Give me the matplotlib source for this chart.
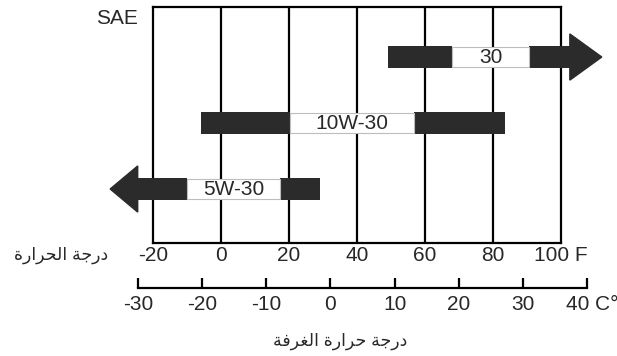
import matplotlib.pyplot as plt
from matplotlib.patches import Polygon

plt.rcParams["font.family"] = ["Liberation Sans", "DejaVu Sans"]

OUTPUT = "out.png"
FIGURE_SIZE = (6.17, 3.56)

# SAE grades, one row each (top to bottom), temperatures in F
GRADES = ["30", "10W-30", "5W-30"]
BAR_START_F = [49, -6, -24.5]
LABEL_START_F = [68, 20.3, -10]
LABEL_END_F = [90.6, 56.8, 17.4]
BAR_END_F = [102.6, 83.5, 29]
ARROW_TIP_F = [112, None, -32.6]  # open-ended ranges

F_TICKS = [-20, 0, 20, 40, 60, 80, 100]
F_LABELS = ["-20", "0", "20", "40", "60", "80", "100 F"]
C_TICKS = [-30, -20, -10, 0, 10, 20, 30, 40]
C_LABELS = ["-30", "-20", "-10", "0", "10", "20", "30", ""]

# Arabic written in presentation forms, visual order (matplotlib does no shaping)
LABEL_TEMP = "\uFE93\uFEAD\uFE8D\uFEAE\uFEA4\uFEDF\uFE8D \uFE94\uFE9F\uFEAD\uFEA9"  # درجة الحرارة
LABEL_ROOM = ("\uFE94\uFED3\uFEAE\uFED0\uFEDF\uFE8D \uFE93\uFEAD\uFE8D\uFEAE\uFEA3 "
              "\uFE94\uFE9F\uFEAD\uFEA9")  # درجة حرارة الغرفة

DARK = "#2b2b2b"
TEXT = "#282828"
FS = 15


def run():
    fig = plt.figure(figsize=FIGURE_SIZE, dpi=100)
    ax = fig.add_axes([153 / 617, 113 / 356, 408 / 617, 236 / 356])
    __plot_grades(ax)
    __plot_celsius(fig)

    fig.text(138 / 617, 1 - 18 / 356, "SAE", ha="right", va="center",
             fontsize=FS, color=TEXT)
    fig.text(108 / 617, 1 - 255 / 356, LABEL_TEMP, ha="right", va="center",
             fontsize=12.5, color=TEXT)
    fig.text(340 / 617, 1 - 341 / 356, LABEL_ROOM, ha="center", va="center",
             fontsize=12.5, color=TEXT)

    fig.savefig(OUTPUT, dpi=100)


def __plot_grades(ax):
    ax.set_xlim(-20, 100)
    ax.set_ylim(2.818, -0.758)
    h = 0.333
    head = 0.70

    for x in F_TICKS[1:-1]:
        ax.axvline(x, color="black", lw=1.6, zorder=1)

    for i, grade in enumerate(GRADES):
        ax.barh(i, LABEL_START_F[i] - BAR_START_F[i], left=BAR_START_F[i],
                height=h, color=DARK, zorder=3, clip_on=False)
        ax.barh(i, BAR_END_F[i] - LABEL_END_F[i], left=LABEL_END_F[i],
                height=h, color=DARK, zorder=3, clip_on=False)
        ax.barh(i, LABEL_END_F[i] - LABEL_START_F[i], left=LABEL_START_F[i],
                height=h * 0.92, color="white", edgecolor="#bdbdbd", lw=0.8,
                zorder=4, clip_on=False)
        ax.text((LABEL_START_F[i] + LABEL_END_F[i]) / 2, i, grade,
                ha="center", va="center", fontsize=FS, color=TEXT, zorder=5)

        tip = ARROW_TIP_F[i]
        if tip is not None:
            base = BAR_END_F[i] if tip > BAR_END_F[i] else BAR_START_F[i]
            ax.add_patch(Polygon([(base, i - head / 2), (tip, i), (base, i + head / 2)],
                                 closed=True, color=DARK, zorder=3, clip_on=False))

    for s in ax.spines.values():
        s.set_linewidth(1.6)
    ax.set_yticks([])
    ax.set_xticks(F_TICKS, F_LABELS)
    ax.tick_params(axis="x", length=0, pad=2, labelsize=FS, labelcolor=TEXT)


def __plot_celsius(fig):
    axc = fig.add_axes([138 / 617, 68 / 356, 449 / 617, 0.04])
    axc.set_xlim(-30, 40)
    axc.set_ylim(0, 1)
    axc.patch.set_visible(False)
    for side in ["top", "left", "right"]:
        axc.spines[side].set_visible(False)
    axc.spines["bottom"].set_linewidth(1.6)
    axc.set_yticks([])
    axc.set_xticks(C_TICKS, C_LABELS)
    axc.tick_params(axis="x", direction="in", length=7, width=1.6, pad=5,
                    labelsize=FS, labelcolor=TEXT)
    axc.annotate("40 C\u00b0", xy=(40, 0), xycoords=("data", "axes fraction"),
                 xytext=(3.6, -5), textcoords="offset points", ha="center",
                 va="top", fontsize=FS, color=TEXT, annotation_clip=False)


if __name__ == "__main__":
    run()
